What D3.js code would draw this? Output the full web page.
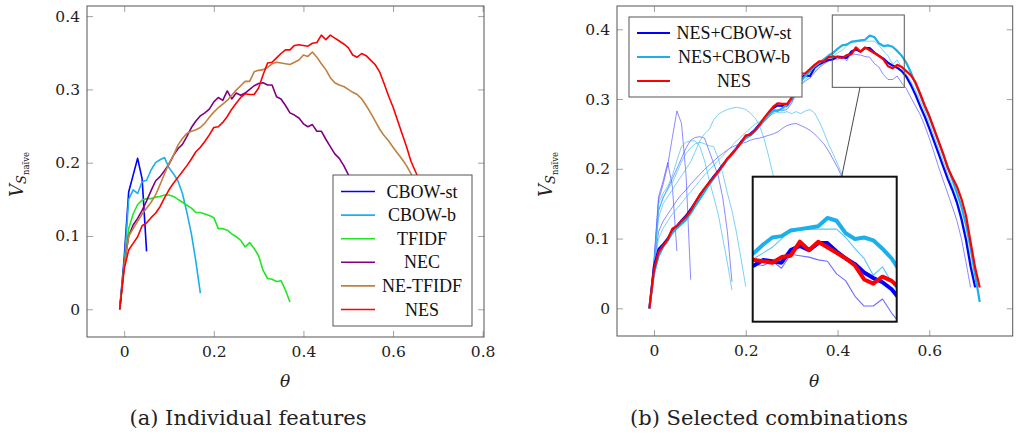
<!DOCTYPE html>
<html>
<head>
<meta charset="utf-8">
<script src="https://cdn.jsdelivr.net/npm/d3@7"></script>
<style>
  body { margin: 0; background: #fff; }
  svg { display: block; }
  .tick text { font-family: "DejaVu Serif", serif; font-size: 15.5px; fill: #222; }
  .legend text { font-family: "Liberation Serif", "Times New Roman", serif; font-size: 18px; fill: #111; }
  .caption { font-family: "DejaVu Serif", serif; font-size: 21px; fill: #222; }
  .axlabel { font-family: "DejaVu Serif", serif; fill: #222; }
</style>
</head>
<body>
<svg id="fig" width="1019" height="436"></svg>
<script>
// Sampling grid of the threshold theta (shared by every curve)
const theta = [-0.01,0,0.01,0.02,0.03,0.04,0.05,0.06,0.07,0.08,0.09,0.1,0.11,0.12,0.13,0.14,0.15,0.16,0.17,0.18,0.19,0.2,
  0.21,0.22,0.23,0.24,0.25,0.26,0.27,0.28,0.29,0.3,0.31,0.32,0.33,0.34,0.35,0.36,0.37,0.38,0.39,0.4,0.41,0.42,0.43,0.44,
  0.45,0.46,0.47,0.48,0.49,0.5,0.51,0.52,0.53,0.54,0.55,0.56,0.57,0.58,0.59,0.6,0.61,0.62,0.63,0.64,0.65,0.66,0.67,0.68,
  0.69,0.7,0.71];

// (a) individual features
const cbowSt = [0,0.07,0.16,0.183,0.206,0.178,0.079];
const cbowB = [0,0.06,0.150,0.163,0.158,0.174,0.176,0.190,0.200,0.204,0.207,0.193,0.185,0.175,0.158,0.132,0.103,0.065,0.022];
const tfidf = [0,0.06,0.11,0.13,0.143,0.149,0.151,0.151,0.153,0.154,0.156,0.156,0.154,0.150,0.146,0.142,0.138,0.132,0.132,
  0.130,0.128,0.125,0.110,0.110,0.108,0.103,0.099,0.094,0.085,0.091,0.083,0.073,0.053,0.042,0.041,0.038,0.039,0.026,0.010];
const nec = [0,0.06,0.10,0.115,0.124,0.135,0.148,0.162,0.175,0.181,0.189,0.198,0.210,0.219,0.225,0.236,0.248,0.257,0.264,
  0.268,0.273,0.283,0.289,0.285,0.298,0.287,0.295,0.292,0.295,0.300,0.305,0.308,0.309,0.306,0.306,0.290,0.287,0.278,0.268,
  0.265,0.261,0.253,0.249,0.252,0.243,0.243,0.232,0.222,0.212,0.206,0.196,0.184,0.170,0.155,0.138,0.118,0.095,0.072];
const neTfidf = [0,0.06,0.10,0.11,0.12,0.13,0.138,0.146,0.156,0.170,0.185,0.199,0.210,0.224,0.233,0.240,0.243,0.245,0.248,
  0.254,0.262,0.269,0.275,0.280,0.285,0.292,0.299,0.305,0.311,0.311,0.324,0.326,0.327,0.330,0.335,0.337,0.336,0.335,0.334,
  0.337,0.340,0.347,0.345,0.351,0.344,0.335,0.327,0.316,0.309,0.306,0.304,0.300,0.296,0.293,0.287,0.278,0.268,0.257,0.246,
  0.237,0.230,0.221,0.213,0.205,0.196,0.185,0.170,0.150,0.125];
const nes = [0,0.055,0.081,0.090,0.099,0.114,0.118,0.125,0.131,0.140,0.152,0.163,0.172,0.180,0.188,0.196,0.205,0.215,0.221,
  0.229,0.238,0.248,0.249,0.255,0.263,0.273,0.281,0.289,0.294,0.293,0.293,0.302,0.320,0.336,0.337,0.343,0.349,0.354,0.354,
  0.360,0.361,0.360,0.359,0.363,0.364,0.374,0.368,0.374,0.370,0.366,0.362,0.357,0.347,0.344,0.349,0.346,0.340,0.334,0.324,
  0.308,0.291,0.276,0.258,0.240,0.222,0.202,0.188,0.175,0.157,0.133,0.095,0.058,0.030];

// (b) selected combinations
const nesCbowSt = [0,0.06,0.085,0.092,0.100,0.112,0.118,0.126,0.133,0.142,0.152,0.162,0.171,0.180,0.189,0.197,0.206,0.214,
  0.222,0.230,0.239,0.246,0.250,0.256,0.264,0.271,0.279,0.287,0.291,0.290,0.291,0.300,0.316,0.331,0.334,0.333,0.345,0.350,
  0.353,0.356,0.357,0.361,0.360,0.359,0.368,0.371,0.368,0.373,0.373,0.367,0.362,0.358,0.352,0.348,0.345,0.340,0.332,0.320,
  0.306,0.290,0.275,0.258,0.240,0.222,0.204,0.186,0.170,0.152,0.128,0.098,0.060,0.030];
const nesCbowB = [0,0.05,0.075,0.088,0.097,0.108,0.115,0.121,0.127,0.136,0.147,0.157,0.167,0.177,0.186,0.195,0.204,0.213,
  0.221,0.229,0.237,0.244,0.248,0.254,0.262,0.270,0.278,0.284,0.283,0.287,0.292,0.300,0.315,0.326,0.333,0.340,0.347,0.352,
  0.357,0.362,0.366,0.372,0.377,0.378,0.382,0.383,0.384,0.385,0.391,0.389,0.380,0.376,0.377,0.375,0.369,0.362,0.352,0.338,
  0.322,0.306,0.290,0.274,0.257,0.239,0.221,0.203,0.185,0.166,0.146,0.120,0.087,0.048,0.009];

// other weightings of the combinations (thin curves)
const stThinA = [0,0.07,0.16,0.183,0.209,0.175,0.082];
const stThinB = [0,0.065,0.155,0.178,0.205,0.245,0.283,0.265,0.190,0.041];
const stThinC = [0,0.06,0.14,0.158,0.172,0.186,0.200,0.215,0.230,0.241,0.245,0.246,0.244,0.226,0.208,0.190,0.158,0.110,0.038];
const stThinD = [0,0.06,0.11,0.125,0.135,0.145,0.155,0.163,0.170,0.178,0.185,0.192,0.199,0.205,0.211,0.217,0.222,0.227,
  0.231,0.234,0.236,0.238,0.241,0.243,0.244,0.246,0.248,0.250,0.253,0.258,0.262,0.264,0.265,0.262,0.259,0.255,0.250,0.243,
  0.236,0.226,0.214,0.202,0.188,0.170,0.150,0.130,0.110,0.090,0.070,0.050,0.035];
const stThinE = [0,0.06,0.085,0.093,0.101,0.110,0.117,0.124,0.132,0.141,0.150,0.160,0.169,0.178,0.187,0.196,0.204,0.212,
  0.220,0.228,0.236,0.243,0.248,0.253,0.260,0.267,0.274,0.281,0.284,0.283,0.285,0.294,0.308,0.320,0.326,0.330,0.338,0.345,
  0.350,0.354,0.358,0.357,0.360,0.355,0.365,0.364,0.363,0.361,0.360,0.351,0.346,0.335,0.328,0.328,0.333,0.323,0.315,0.302,
  0.290,0.278,0.262,0.244,0.224,0.203,0.184,0.165,0.146,0.126,0.100,0.066,0.030];
const bThinA = [0,0.06,0.15,0.165,0.175,0.19,0.212,0.232,0.238,0.240,0.240,0.232,0.212,0.185,0.160,0.135,0.100,0.065,0.026];
const bThinB = [0,0.06,0.14,0.16,0.17,0.18,0.195,0.21,0.222,0.23,0.236,0.238,0.236,0.233,0.232,0.215,0.193,0.165,0.140,
  0.108,0.070,0.031];
const bThinC = [0,0.06,0.13,0.15,0.16,0.17,0.18,0.19,0.20,0.21,0.225,0.24,0.25,0.256,0.27,0.278,0.282,0.285,0.287,0.288,
  0.287,0.285,0.28,0.273,0.262,0.243,0.218,0.19,0.15,0.10,0.05];
const bThinD = [0,0.06,0.10,0.115,0.125,0.135,0.143,0.151,0.159,0.167,0.175,0.183,0.191,0.198,0.205,0.212,0.219,0.226,
  0.233,0.240,0.246,0.252,0.258,0.264,0.268,0.272,0.276,0.279,0.281,0.280,0.282,0.279,0.282,0.279,0.283,0.285,0.280,0.268,
  0.253,0.236,0.222,0.207,0.192,0.170,0.145,0.120,0.095,0.070,0.045,0.025];
const bThinE = [0,0.05,0.078,0.09,0.098,0.108,0.115,0.122,0.129,0.138,0.148,0.158,0.168,0.177,0.186,0.195,0.204,0.212,
  0.220,0.228,0.236,0.243,0.247,0.253,0.260,0.268,0.275,0.282,0.285,0.284,0.288,0.296,0.310,0.322,0.328,0.334,0.340,0.347,
  0.352,0.357,0.362,0.366,0.370,0.376,0.383,0.383,0.383,0.383,0.383,0.383,0.377,0.369,0.362,0.350,0.356,0.345,0.336,0.325,
  0.312,0.298,0.283,0.266,0.248,0.230,0.212,0.194,0.175,0.156,0.134,0.105,0.070,0.030];

// ticks
const xTicksA = [0, 0.2, 0.4, 0.6, 0.8];
const xTickLabelsA = ["0", "0.2", "0.4", "0.6", "0.8"];
const xTicksB = [0, 0.2, 0.4, 0.6];
const xTickLabelsB = ["0", "0.2", "0.4", "0.6"];
const yTicks = [0, 0.1, 0.2, 0.3, 0.4];
const yTickLabels = ["0", "0.1", "0.2", "0.3", "0.4"];

const legendA = ["CBOW-st", "CBOW-b", "TFIDF", "NEC", "NE-TFIDF", "NES"];
const legendB = ["NES+CBOW-st", "NES+CBOW-b", "NES"];

const C = { blue: "#0000ff", cyan: "#1cb0ea", green: "#22e622", purple: "#800080", brown: "#bf8040", red: "#ff0000" };

const svg = d3.select("#fig");

function drawAxes(g, x, y, box, xt, xl) {
  const fmtX = (d, i) => xl[i];
  const fmtY = (d, i) => yTickLabels[i];
  const style = sel => {
    sel.select(".domain").remove();
    sel.selectAll(".tick line").attr("stroke", "#8a8a8a").attr("stroke-width", 0.8);
    sel.attr("font-family", null).attr("font-size", null);
  };
  g.append("g").attr("transform", `translate(0,${box.b})`)
    .call(d3.axisBottom(x).tickValues(xt).tickFormat(fmtX).tickSizeInner(-6).tickSizeOuter(0).tickPadding(9)).call(style);
  g.append("g").attr("transform", `translate(0,${box.t})`)
    .call(d3.axisTop(x).tickValues(xt).tickFormat("").tickSizeInner(-6).tickSizeOuter(0)).call(style);
  g.append("g").attr("transform", `translate(${box.l},0)`)
    .call(d3.axisLeft(y).tickValues(yTicks).tickFormat(fmtY).tickSizeInner(-6).tickSizeOuter(0).tickPadding(7)).call(style);
  g.append("g").attr("transform", `translate(${box.r},0)`)
    .call(d3.axisRight(y).tickValues(yTicks).tickFormat("").tickSizeInner(-6).tickSizeOuter(0)).call(style);
  g.append("rect").attr("x", box.l).attr("y", box.t).attr("width", box.r - box.l).attr("height", box.b - box.t)
    .attr("fill", "none").attr("stroke", "#555").attr("stroke-width", 1);
}

function yLabel(g, bx, by) {
  const t = g.append("text").attr("class", "axlabel")
    .attr("transform", `translate(${bx},${by}) rotate(-90)`);
  t.append("tspan").attr("font-style", "italic").attr("font-size", 18).text("V");
  t.append("tspan").attr("font-style", "italic").attr("font-size", 13).attr("dy", 3).text("S");
  t.append("tspan").attr("font-size", 8.5).attr("dy", 2.5).text("naïve");
}

function drawSeries(g, x, y, list) {
  list.forEach(s => {
    const line = d3.line().x((v, i) => x(theta[i])).y(v => y(v));
    g.append("path").attr("d", line(s.values)).attr("fill", "none")
      .attr("stroke", s.color).attr("stroke-width", s.w).attr("stroke-opacity", s.op || 1)
      .attr("stroke-linejoin", "round").attr("stroke-linecap", "butt");
  });
}

// ---------------- panel (a) ----------------
const boxA = { l: 87, r: 484, t: 6, b: 337 };
const xA = d3.scaleLinear().domain([-0.083, 0.803]).range([boxA.l, boxA.r]);
const yA = d3.scaleLinear().domain([-0.0378, 0.4138]).range([boxA.b, boxA.t]);
const gA = svg.append("g");
gA.append("clipPath").attr("id", "clipA").append("rect")
  .attr("x", boxA.l).attr("y", boxA.t).attr("width", boxA.r - boxA.l).attr("height", boxA.b - boxA.t);

const seriesA = [
  { name: legendA[0], values: cbowSt, color: C.blue, w: 1.6 },
  { name: legendA[1], values: cbowB, color: C.cyan, w: 1.6 },
  { name: legendA[2], values: tfidf, color: C.green, w: 1.6 },
  { name: legendA[3], values: nec, color: C.purple, w: 1.6 },
  { name: legendA[4], values: neTfidf, color: C.brown, w: 1.6 },
  { name: legendA[5], values: nes, color: C.red, w: 1.6 }
];
drawSeries(gA.append("g").attr("clip-path", "url(#clipA)"), xA, yA, seriesA);
drawAxes(gA, xA, yA, boxA, xTicksA, xTickLabelsA);

const legA = gA.append("g").attr("class", "legend");
legA.append("rect").attr("x", 333).attr("y", 175).attr("width", 139).attr("height", 151)
  .attr("fill", "#fff").attr("stroke", "#555").attr("stroke-width", 1);
seriesA.forEach((s, i) => {
  const cy = 191.5 + i * 23.6;
  legA.append("line").attr("x1", 341).attr("x2", 375).attr("y1", cy).attr("y2", cy)
    .attr("stroke", s.color).attr("stroke-width", 1.6);
  legA.append("text").attr("x", 422).attr("y", cy + 6).attr("text-anchor", "middle").text(s.name);
});

gA.append("text").attr("class", "axlabel").attr("x", 285).attr("y", 387).attr("text-anchor", "middle")
  .attr("font-style", "italic").attr("font-size", 17).text("θ");
yLabel(gA, 23, 197);
gA.append("text").attr("class", "caption").attr("x", 248).attr("y", 425).attr("text-anchor", "middle")
  .text("(a) Individual features");

// ---------------- panel (b) ----------------
const boxB = { l: 617, r: 1012.7, t: 6, b: 336 };
const xB = d3.scaleLinear().domain([-0.0806, 0.7818]).range([boxB.l, boxB.r]);
const yB = d3.scaleLinear().domain([-0.0397, 0.4334]).range([boxB.b, boxB.t]);
const gB = svg.append("g");
gB.append("clipPath").attr("id", "clipB").append("rect")
  .attr("x", boxB.l).attr("y", boxB.t).attr("width", boxB.r - boxB.l).attr("height", boxB.b - boxB.t);

const thinBlue = "#3c3cff", thinCyan = "#3cbcf0";
const seriesB = [
  { values: stThinA, color: thinBlue, w: 0.8, op: 0.75 },
  { values: stThinB, color: thinBlue, w: 0.8, op: 0.75 },
  { values: stThinC, color: thinBlue, w: 0.8, op: 0.75 },
  { values: stThinD, color: thinBlue, w: 0.8, op: 0.75 },
  { values: stThinE, color: thinBlue, w: 0.8, op: 0.75 },
  { values: bThinA, color: thinCyan, w: 0.8, op: 0.85 },
  { values: bThinB, color: thinCyan, w: 0.8, op: 0.85 },
  { values: bThinC, color: thinCyan, w: 0.8, op: 0.85 },
  { values: bThinD, color: thinCyan, w: 0.8, op: 0.85 },
  { values: bThinE, color: thinCyan, w: 0.8, op: 0.85 },
  { name: legendB[0], values: nesCbowSt, color: C.blue, w: 2.2 },
  { name: legendB[1], values: nesCbowB, color: C.cyan, w: 2.2 },
  { name: legendB[2], values: nes, color: C.red, w: 2.2 }
];
drawSeries(gB.append("g").attr("clip-path", "url(#clipB)"), xB, yB, seriesB);
drawAxes(gB, xB, yB, boxB, xTicksB, xTickLabelsB);

// magnified region around the peak
const zoomX = [0.3886, 0.5455], zoomY = [0.3168, 0.4205];
const inset = { l: 752.7, r: 896.7, t: 176.7, b: 321.7 };
gB.append("rect").attr("x", xB(zoomX[0])).attr("y", yB(zoomY[1]))
  .attr("width", xB(zoomX[1]) - xB(zoomX[0])).attr("height", yB(zoomY[0]) - yB(zoomY[1]))
  .attr("fill", "none").attr("stroke", "#555").attr("stroke-width", 1);
gB.append("line").attr("x1", 860).attr("y1", yB(zoomY[0])).attr("x2", 841.7).attr("y2", inset.t)
  .attr("stroke", "#333").attr("stroke-width", 0.9);

const xI = d3.scaleLinear().domain(zoomX).range([inset.l, inset.r]);
const yI = d3.scaleLinear().domain(zoomY).range([inset.b, inset.t]);
gB.append("clipPath").attr("id", "clipI").append("rect")
  .attr("x", inset.l).attr("y", inset.t).attr("width", inset.r - inset.l).attr("height", inset.b - inset.t);
gB.append("rect").attr("x", inset.l).attr("y", inset.t).attr("width", inset.r - inset.l).attr("height", inset.b - inset.t)
  .attr("fill", "#fff");
drawSeries(gB.append("g").attr("clip-path", "url(#clipI)"), xI, yI,
  seriesB.map(s => ({ ...s, w: s.name ? 4 : 1.1 })));
gB.append("rect").attr("x", inset.l).attr("y", inset.t).attr("width", inset.r - inset.l).attr("height", inset.b - inset.t)
  .attr("fill", "none").attr("stroke", "#111").attr("stroke-width", 2);

const legB = gB.append("g").attr("class", "legend");
legB.append("rect").attr("x", 629).attr("y", 17).attr("width", 173).attr("height", 80)
  .attr("fill", "#fff").attr("stroke", "#555").attr("stroke-width", 1);
seriesB.filter(s => s.name).forEach((s, i) => {
  const cy = 33 + i * 24;
  legB.append("line").attr("x1", 637).attr("x2", 670).attr("y1", cy).attr("y2", cy)
    .attr("stroke", s.color).attr("stroke-width", 2.2);
  legB.append("text").attr("x", 734).attr("y", cy + 6).attr("text-anchor", "middle").text(s.name);
});

gB.append("text").attr("class", "axlabel").attr("x", 814).attr("y", 387).attr("text-anchor", "middle")
  .attr("font-style", "italic").attr("font-size", 17).text("θ");
yLabel(gB, 552, 197);
gB.append("text").attr("class", "caption").attr("x", 769).attr("y", 425).attr("text-anchor", "middle")
  .text("(b) Selected combinations");
</script>
</body>
</html>
